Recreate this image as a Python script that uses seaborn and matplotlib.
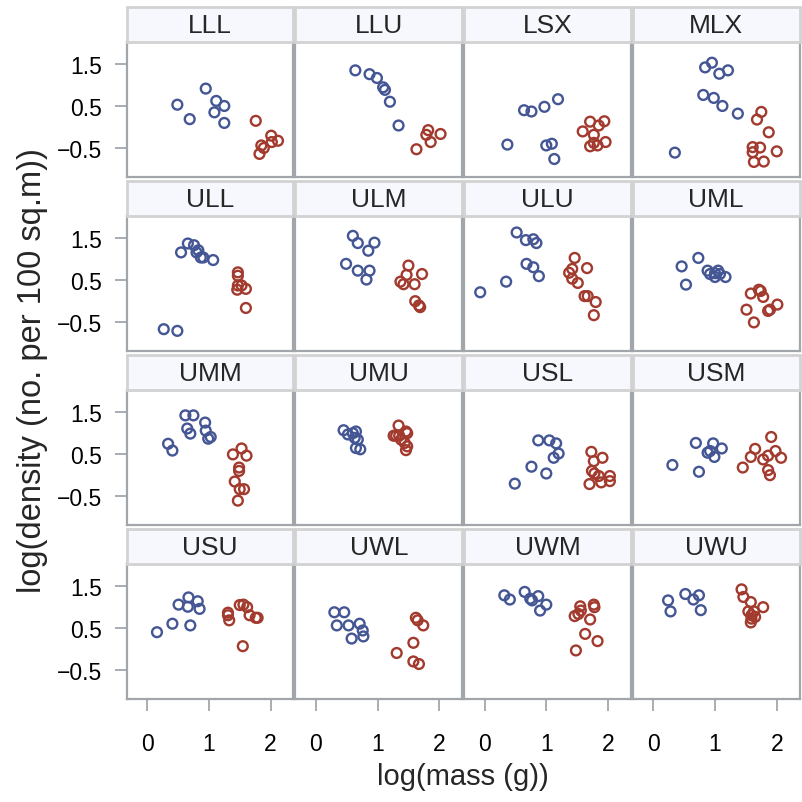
import pandas as pd
import matplotlib.pyplot as plt
import seaborn as sns
from matplotlib.patches import Rectangle

# Panels (sites), in grid order
sites = ['LLL', 'LLU', 'LSX', 'MLX', 'ULL', 'ULM', 'ULU', 'UML',
         'UMM', 'UMU', 'USL', 'USM', 'USU', 'UWL', 'UWM', 'UWU']

# (log mass, log density) pairs; a = blue group, b = red group
LLL_a = [(0.49, 0.53), (0.69, 0.19), (0.95, 0.91), (1.12, 0.62), (1.25, 0.50), (1.09, 0.35), (1.25, 0.10)]
LLL_b = [(1.76, 0.15), (2.01, -0.20), (2.12, -0.32), (2.02, -0.35), (1.85, -0.43), (1.89, -0.49), (1.82, -0.63)]
LLU_a = [(0.64, 1.34), (0.87, 1.25), (0.99, 1.16), (1.09, 0.94), (1.12, 0.88), (1.20, 0.60), (1.34, 0.04)]
LLU_b = [(1.82, -0.07), (1.79, -0.18), (2.02, -0.16), (1.86, -0.35), (1.63, -0.52)]
LSX_a = [(0.37, -0.41), (0.64, 0.40), (0.76, 0.37), (0.97, 0.48), (1.19, 0.66), (1.00, -0.43), (1.09, -0.39), (1.13, -0.75)]
LSX_b = [(1.71, 0.13), (1.94, 0.14), (1.85, 0.04), (1.59, -0.10), (1.77, -0.18), (1.96, -0.35), (1.77, -0.37),
         (1.71, -0.45), (1.83, -0.43)]
MLX_a = [(0.84, 1.41), (0.95, 1.52), (1.07, 1.26), (1.21, 1.34), (0.81, 0.76), (0.98, 0.69), (1.12, 0.50),
         (1.37, 0.32), (0.35, -0.60)]
MLX_b = [(1.75, 0.36), (1.68, 0.18), (1.87, -0.12), (1.61, -0.47), (1.73, -0.48), (1.61, -0.59), (2.00, -0.57),
         (1.63, -0.82), (1.79, -0.81)]
ULL_a = [(0.55, 1.15), (0.66, 1.36), (0.76, 1.32), (0.80, 1.15), (0.83, 1.20), (0.91, 1.03), (0.87, 1.03),
         (1.07, 0.97), (0.27, -0.66), (0.49, -0.70)]
ULL_b = [(1.47, 0.68), (1.47, 0.60), (1.47, 0.37), (1.53, 0.37), (1.60, 0.29), (1.46, 0.27), (1.60, -0.16)]
ULM_a = [(0.60, 1.54), (0.68, 1.37), (0.95, 1.38), (0.85, 1.19), (0.49, 0.88), (0.68, 0.72), (0.87, 0.72), (0.82, 0.51)]
ULM_b = [(1.50, 0.84), (1.47, 0.62), (1.37, 0.46), (1.42, 0.40), (1.60, 0.40), (1.72, 0.64), (1.61, 0.00),
         (1.67, -0.10), (1.69, -0.14)]
ULU_a = [(0.52, 1.62), (0.67, 1.44), (0.79, 1.46), (0.84, 1.37), (0.68, 0.88), (0.79, 0.80), (0.88, 0.59),
         (0.35, 0.46), (-0.07, 0.21)]
ULU_b = [(1.46, 1.02), (1.42, 0.76), (1.66, 0.78), (1.37, 0.67), (1.42, 0.53), (1.51, 0.43), (1.62, 0.12),
         (1.67, 0.12), (1.80, -0.02), (1.77, -0.33)]
UML_a = [(0.46, 0.82), (0.73, 1.02), (0.53, 0.39), (0.88, 0.72), (0.92, 0.64), (1.00, 0.66), (1.05, 0.72),
         (1.08, 0.64), (1.00, 0.57), (1.17, 0.57)]
UML_b = [(1.58, 0.18), (1.71, 0.27), (1.74, 0.24), (1.78, 0.10), (1.51, -0.20), (1.86, -0.23), (1.89, -0.20),
         (2.01, -0.08), (1.63, -0.50)]
UMM_a = [(0.34, 0.74), (0.41, 0.58), (0.62, 1.41), (0.75, 1.41), (0.65, 1.10), (0.70, 0.98), (0.94, 1.24),
         (0.95, 1.05), (0.99, 0.86), (1.03, 0.90)]
UMM_b = [(1.39, 0.49), (1.53, 0.63), (1.61, 0.46), (1.49, 0.18), (1.49, 0.10), (1.42, -0.15), (1.50, -0.33),
         (1.57, -0.33), (1.47, -0.60)]
UMU_a = [(0.45, 1.06), (0.52, 0.96), (0.60, 0.99), (0.65, 1.03), (0.63, 0.88), (0.68, 0.84), (0.65, 0.64), (0.72, 0.61)]
UMU_b = [(1.34, 1.17), (1.26, 0.93), (1.35, 0.93), (1.46, 1.03), (1.48, 0.99), (1.38, 0.84), (1.44, 0.76),
         (1.48, 0.68), (1.46, 0.59), (1.30, 0.93)]
USL_a = [(0.87, 0.82), (1.05, 0.82), (1.16, 0.75), (1.20, 0.51), (1.12, 0.41), (0.76, 0.20), (1.00, 0.04), (0.49, -0.20)]
USL_b = [(1.73, 0.55), (1.91, 0.41), (1.77, 0.33), (1.74, 0.10), (1.78, 0.04), (1.85, -0.02), (2.03, -0.02),
         (2.03, -0.14), (1.89, -0.17), (1.70, -0.21)]
USM_a = [(0.31, 0.24), (0.69, 0.76), (0.74, 0.08), (0.88, 0.53), (0.92, 0.57), (0.97, 0.75), (0.99, 0.43), (1.11, 0.63)]
USM_b = [(1.91, 0.90), (1.65, 0.62), (1.58, 0.43), (1.45, 0.18), (1.78, 0.37), (1.86, 0.46), (1.98, 0.57),
         (2.07, 0.41), (1.86, 0.12), (1.89, 0.00)]
USU_a = [(0.16, 0.40), (0.41, 0.60), (0.51, 1.05), (0.67, 1.22), (0.66, 1.00), (0.82, 1.13), (0.85, 0.95), (0.70, 0.56)]
USU_b = [(1.31, 0.86), (1.31, 0.80), (1.33, 0.68), (1.50, 1.04), (1.56, 1.05), (1.62, 0.99), (1.66, 0.80),
         (1.76, 0.74), (1.79, 0.74), (1.55, 0.07)]
UWL_a = [(0.30, 0.87), (0.46, 0.87), (0.34, 0.56), (0.53, 0.56), (0.71, 0.60), (0.76, 0.44), (0.77, 0.30), (0.58, 0.25)]
UWL_b = [(1.62, 0.74), (1.65, 0.68), (1.74, 0.56), (1.58, 0.15), (1.31, -0.09), (1.58, -0.29), (1.67, -0.35)]
UWM_a = [(0.32, 1.27), (0.41, 1.17), (0.65, 1.35), (0.74, 1.19), (0.77, 1.15), (0.87, 1.25), (0.90, 0.91), (1.00, 1.05)]
UWM_b = [(1.55, 1.01), (1.56, 0.91), (1.52, 0.83), (1.46, 0.78), (1.77, 1.05), (1.78, 0.99), (1.71, 0.70),
         (1.63, 0.36), (1.83, 0.19), (1.48, -0.03)]
UWU_a = [(0.24, 1.15), (0.28, 0.89), (0.52, 1.30), (0.65, 1.17), (0.74, 1.27), (0.77, 0.92)]
UWU_b = [(1.43, 1.41), (1.46, 1.23), (1.58, 1.11), (1.78, 0.99), (1.54, 0.89), (1.63, 0.89), (1.59, 0.80),
         (1.59, 0.72), (1.58, 0.63), (1.65, 0.76)]

groups = ['a', 'b']
colors = ['#445694', '#A23A2E']
x_ticks = [0, 1, 2]
y_ticks = [-0.5, 0.5, 1.5]

# Build long table
rows = []
for site in sites:
    for grp in groups:
        for m, d in globals()[f'{site}_{grp}']:
            rows.append({'site': site, 'group': grp, 'mass': m, 'density': d})
df = pd.DataFrame(rows)

sns.set_style('ticks')
plt.rcParams['font.family'] = ['Liberation Sans', 'DejaVu Sans']

g = sns.relplot(data=df, x='mass', y='density', hue='group', hue_order=groups,
                palette=colors, col='site', col_order=sites, col_wrap=4,
                legend=False, s=50, linewidth=1.7, height=1.7, aspect=1.25,
                facet_kws={'despine': False, 'sharex': True, 'sharey': True})

g.figure.set_size_inches(8.02, 8.03)
g.figure.subplots_adjust(left=0.158, right=0.997, top=0.946, bottom=0.128,
                         wspace=0.012, hspace=0.29)
g.set_titles('')
g.set_axis_labels('', '')
g.set(xlim=(-0.33, 2.37), ylim=(-1.18, 2.0), xticks=x_ticks, yticks=y_ticks)

spine_col = '#a2a6aa'
for i, (ax, site) in enumerate(zip(g.axes.flat, sites)):
    # open circles: move the hue colour from face to edge
    for coll in ax.collections:
        fc = coll.get_facecolors()
        coll.set_edgecolors(fc)
        coll.set_facecolors('none')
    for sp in ax.spines.values():
        sp.set_color(spine_col)
        sp.set_linewidth(1.6)
    ax.tick_params(axis='both', colors=spine_col, labelcolor='black',
                   labelsize=16.5, length=8.5, width=1.3)
    ax.tick_params(axis='y', pad=9, left=(i % 4 == 0))
    ax.tick_params(axis='x', pad=15, bottom=(i >= 12))
    ax.set_yticklabels(['\u22120.5', '0.5', '1.5'])
    ax.add_patch(Rectangle((0, 1.0), 1, 0.26, transform=ax.transAxes,
                           facecolor='#f7f8fd', edgecolor='#d2d2d2',
                           linewidth=2, clip_on=False, zorder=3))
    ax.text(0.5, 1.13, site, transform=ax.transAxes, ha='center', va='center',
            fontsize=19, zorder=4)

g.figure.text(0.577, 0.033, 'log(mass (g))', ha='center', va='center', fontsize=21)
g.figure.text(0.040, 0.538, 'log(density (no. per 100 sq.m))', ha='center', va='center',
              rotation=90, fontsize=23.5)

plt.savefig('out.png', dpi=100)
